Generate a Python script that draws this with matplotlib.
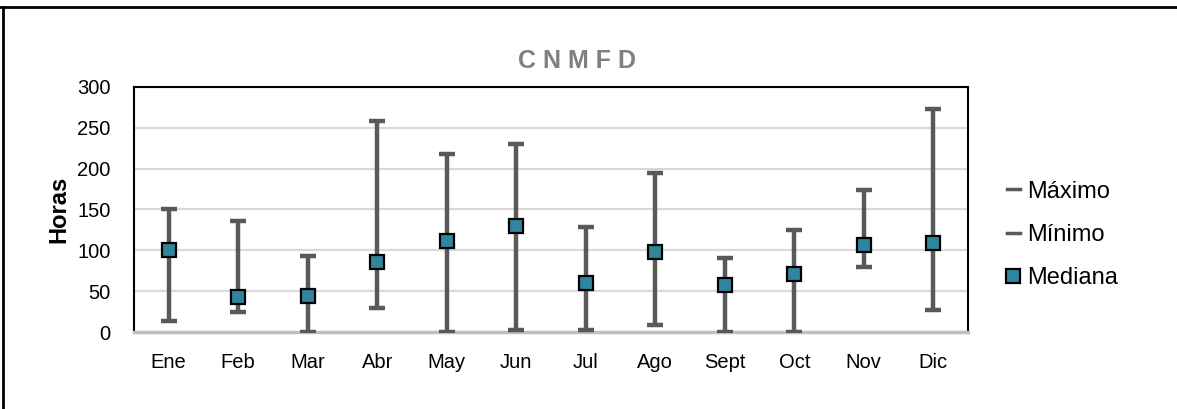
import matplotlib
matplotlib.use("Agg")
import matplotlib.pyplot as plt
from matplotlib.lines import Line2D
import numpy as np

plt.rcParams['font.family'] = ['Liberation Sans', 'DejaVu Sans']

months = ["Ene", "Feb", "Mar", "Abr", "May", "Jun", "Jul", "Ago", "Sept", "Oct", "Nov", "Dic"]
maximo = [150, 136, 93, 258, 218, 230, 128, 195, 91, 125, 174, 273]
minimo = [13, 24, 0, 30, 0, 3, 3, 9, 0, 0, 79, 27]
mediana = [100, 43, 44, 86, 111, 130, 60, 98, 57, 71, 106, 109]
yticks = [0, 50, 100, 150, 200, 250, 300]

W, H = 1177, 409
fig = plt.figure(figsize=(W / 100, H / 100), dpi=100)
ax = fig.add_axes([134 / W, 1 - 332 / H, (968 - 134) / W, (332 - 87) / H])

x = np.arange(len(months))
med = np.array(mediana)
lo = med - np.array(minimo)
hi = np.array(maximo) - med
ax.errorbar(x, med, yerr=[lo, hi], fmt='none', ecolor='#595959',
            elinewidth=3.2, capsize=5.8, capthick=3.2, zorder=3)
ax.plot(x, med, linestyle='none', marker='s', markersize=9.8,
        markerfacecolor='#31859C', markeredgecolor='black',
        markeredgewidth=1.6, zorder=4)

ax.set_xlim(-0.5, len(months) - 0.5)
ax.set_ylim(0, 300)
ax.set_yticks(yticks)
ax.set_xticks(x)
ax.set_xticklabels(months)
ax.tick_params(axis='both', length=0, labelsize=14.5, colors='black')
ax.tick_params(axis='y', pad=17)
ax.tick_params(axis='x', pad=15)
ax.grid(axis='y', color='#d9d9d9', linewidth=1.6, zorder=0)
ax.set_axisbelow(True)
for s in ['top', 'left', 'right']:
    ax.spines[s].set_color('black')
    ax.spines[s].set_linewidth(1.5)
ax.spines['bottom'].set_color('#bfbfbf')
ax.spines['bottom'].set_linewidth(2.5)

ax.set_ylabel("Horas", fontsize=17, fontweight='bold')
ax.yaxis.set_label_coords(-(134 - 70) / (968 - 134), 0.5)

fig.text(577 / W, 1 - 61 / H, "C N M F D", fontsize=18, fontweight='bold',
         color='#808080', ha='center', va='center')

handles = [
    Line2D([0], [0], color='#595959', linewidth=2.5),
    Line2D([0], [0], color='#595959', linewidth=2.5),
    Line2D([0], [0], linestyle='none', marker='s', markersize=9.8,
           markerfacecolor='#31859C', markeredgecolor='black', markeredgewidth=1.6),
]
fig.legend(handles, ["Máximo", "Mínimo", "Mediana"], loc='center left',
           bbox_to_anchor=(1007 / W, 1 - 235 / H), frameon=False,
           fontsize=17, handlelength=0.55, handletextpad=0.3,
           labelspacing=0.9, borderaxespad=0, borderpad=0)

# outer frame lines (top and left)
fig.add_artist(Line2D([0, 1], [1 - 6.5 / H, 1 - 6.5 / H], transform=fig.transFigure,
                      color='black', linewidth=2))
fig.add_artist(Line2D([3 / W, 3 / W], [0, 1 - 6.5 / H], transform=fig.transFigure,
                      color='black', linewidth=2))

fig.savefig("out.png", dpi=100, facecolor='white')
